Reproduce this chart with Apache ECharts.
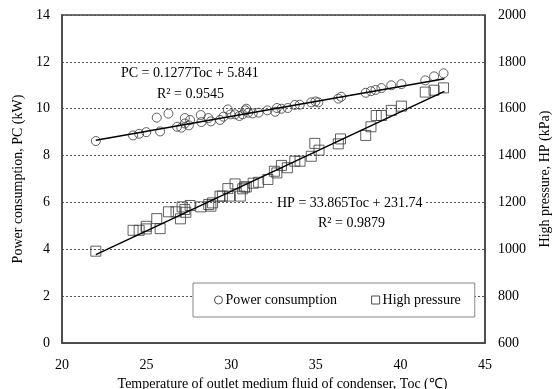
<!DOCTYPE html>
<html>
<head>
<meta charset="utf-8">
<script src="https://cdn.jsdelivr.net/npm/echarts@6/dist/echarts.min.js"></script>
<style>
  html, body { margin: 0; padding: 0; background: #fff; }
  #chart { width: 553px; height: 389px; }
</style>
</head>
<body>
<div id="chart"></div>
<script>
const pcToc = [22.0, 24.2, 24.56, 24.98, 25.6, 25.8, 26.29, 26.8, 27.05, 27.26, 27.26, 27.5, 27.57, 28.2, 28.24,
  28.65, 28.8, 29.34, 29.54, 29.8, 29.96, 30.23, 30.48, 30.68, 30.83, 30.89, 31.0, 31.27, 31.62, 32.14,
  32.6, 32.7, 32.97, 33.34, 33.76, 34.05, 34.73, 34.98, 35.15, 36.33, 36.5, 37.95, 38.26, 38.53, 38.88,
  39.46, 40.06, 41.47, 41.99, 42.55];
const pcValues = [8.62, 8.86, 8.93, 9.0, 9.62, 9.03, 9.79, 9.23, 9.19, 9.6, 9.37, 9.29, 9.52, 9.73, 9.43,
  9.6, 9.46, 9.52, 9.66, 9.97, 9.76, 9.76, 9.69, 9.76, 9.93, 10.0, 9.83, 9.8, 9.83, 9.93,
  9.87, 10.03, 10.0, 10.03, 10.16, 10.17, 10.27, 10.31, 10.27, 10.43, 10.51, 10.68, 10.75, 10.8, 10.88,
  11.0, 11.05, 11.21, 11.38, 11.51];

const hpToc = [22.0, 24.2, 24.56, 24.98, 24.98, 25.6, 25.8, 26.29, 26.74, 27.0, 27.1, 27.26, 27.32, 27.57, 28.2,
  28.67, 28.8, 28.9, 29.34, 29.48, 29.8, 29.9, 30.23, 30.54, 30.68, 30.79, 30.89, 31.3, 31.62, 32.17,
  32.55, 32.7, 32.97, 33.32, 33.76, 34.07, 34.73, 34.94, 35.19, 36.33, 36.46, 37.95, 38.26, 38.57, 38.88,
  39.46, 40.06, 41.47, 41.99, 42.55];
const hpValues = [992, 1081, 1081, 1098, 1087, 1131, 1088, 1160, 1160, 1130, 1181, 1170, 1158, 1187, 1181,
  1191, 1184, 1198, 1227, 1227, 1259, 1227, 1279, 1227, 1258, 1266, 1266, 1282, 1286, 1298,
  1333, 1326, 1358, 1348, 1376, 1376, 1397, 1452, 1423, 1450, 1471, 1486, 1523, 1571, 1571,
  1593, 1611, 1671, 1679, 1689];

// trendline end points
const pcFitToc = [22.0, 42.6];
const pcFitValues = [8.65, 11.28];
const hpFitToc = [22.0, 42.6];
const hpFitValues = [977, 1674];

const xTicks = [20, 45, 5];
const leftTicks = [0, 14, 2];
const rightTicks = [600, 2000, 200];

const FONT = "'Liberation Serif', 'Times New Roman', serif";

const pairs = (xs, ys) => xs.map((x, i) => [x, ys[i]]);

const chart = echarts.init(document.getElementById("chart"), null, { renderer: "canvas" });

chart.setOption({
  backgroundColor: "#fff",
  animation: false,
  textStyle: { fontFamily: FONT, color: "#000" },
  grid: {
    left: 62, right: 68, top: 15, bottom: 46,
    outerBoundsMode: "none",
    containLabel: false,
    show: true, borderColor: "#444", borderWidth: 1.5, backgroundColor: "transparent",
  },
  xAxis: {
    type: "value",
    min: xTicks[0], max: xTicks[1], interval: xTicks[2],
    name: "Temperature of outlet medium fluid of condenser, Toc (\u2103)",
    nameLocation: "middle", nameGap: 31,
    nameTextStyle: { fontFamily: FONT, fontSize: 14, color: "#000", padding: [0, 0, 0, 18] },
    axisLine: { show: true, lineStyle: { color: "#444", width: 1.5 } },
    axisTick: { show: false },
    splitLine: { show: false },
    axisLabel: { fontFamily: FONT, fontSize: 14, color: "#000", margin: 15 },
  },
  yAxis: [
    {
      type: "value",
      min: leftTicks[0], max: leftTicks[1], interval: leftTicks[2],
      name: "Power consumption, PC (kW)",
      nameLocation: "middle", nameGap: 29,
      nameTextStyle: { fontFamily: FONT, fontSize: 14, color: "#000" },
      axisLine: { show: true, lineStyle: { color: "#444", width: 1.5 } },
      axisTick: { show: false },
      splitLine: { show: true, lineStyle: { color: "#555", type: [2, 2], width: 1 } },
      axisLabel: { fontFamily: FONT, fontSize: 14, color: "#000", margin: 12 },
    },
    {
      type: "value",
      min: rightTicks[0], max: rightTicks[1], interval: rightTicks[2],
      name: "High pressure, HP (kPa)",
      nameLocation: "middle", nameGap: 53,
      nameTextStyle: { fontFamily: FONT, fontSize: 14, color: "#000" },
      axisLine: { show: true, lineStyle: { color: "#444", width: 1.5 } },
      axisTick: { show: false },
      splitLine: { show: false },
      axisLabel: { fontFamily: FONT, fontSize: 14, color: "#000", margin: 13, formatter: (v) => String(v) },
    },
  ],
  legend: {
    left: 193, top: 283,
    orient: "horizontal",
    backgroundColor: "#fff",
    borderColor: "#888", borderWidth: 1,
    padding: [10, 14, 10, 21],
    itemGap: 34,
    itemWidth: 8, itemHeight: 8,
    textStyle: { fontFamily: FONT, fontSize: 14, color: "#000", padding: [0, 0, 0, -2] },
    data: [
      { name: "Power consumption", icon: "circle", itemStyle: { color: "#fff", borderColor: "#222", borderWidth: 1 } },
      { name: "High pressure", icon: "rect", itemStyle: { color: "#fff", borderColor: "#222", borderWidth: 1 } },
    ],
  },
  graphic: [
    {
      type: "text", left: 118, top: 65, z: 1,
      style: { text: "PC = 0.1277Toc + 5.841", font: "14px " + FONT, fill: "#000", backgroundColor: "#fff", padding: [1, 3] },
    },
    {
      type: "text", left: 155, top: 86, z: 1,
      style: { text: "R\u00b2 = 0.9545", font: "14px " + FONT, fill: "#000", backgroundColor: "#fff", padding: [1, 2] },
    },
    {
      type: "text", left: 274, top: 195, z: 1,
      style: { text: "HP = 33.865Toc + 231.74", font: "14px " + FONT, fill: "#000", backgroundColor: "#fff", padding: [1, 3] },
    },
    {
      type: "text", left: 316, top: 215, z: 1,
      style: { text: "R\u00b2 = 0.9879", font: "14px " + FONT, fill: "#000", backgroundColor: "#fff", padding: [1, 2] },
    },
  ],
  series: [
    {
      name: "Power consumption",
      type: "scatter",
      symbol: "circle",
      symbolSize: 9,
      itemStyle: { color: "rgba(255,255,255,0)", borderColor: "#3a3a3a", borderWidth: 1 },
      data: pairs(pcToc, pcValues),
      z: 3,
    },
    {
      name: "High pressure",
      type: "scatter",
      yAxisIndex: 1,
      symbol: "rect",
      symbolSize: 10,
      itemStyle: { color: "rgba(255,255,255,0)", borderColor: "#3a3a3a", borderWidth: 1 },
      data: pairs(hpToc, hpValues),
      z: 3,
    },
    {
      name: "PC fit",
      type: "line",
      showSymbol: false,
      lineStyle: { color: "#000", width: 1.5 },
      data: pairs(pcFitToc, pcFitValues),
      z: 4,
    },
    {
      name: "HP fit",
      type: "line",
      yAxisIndex: 1,
      showSymbol: false,
      lineStyle: { color: "#000", width: 1.5 },
      data: pairs(hpFitToc, hpFitValues),
      z: 4,
    },
  ],
});
</script>
</body>
</html>
